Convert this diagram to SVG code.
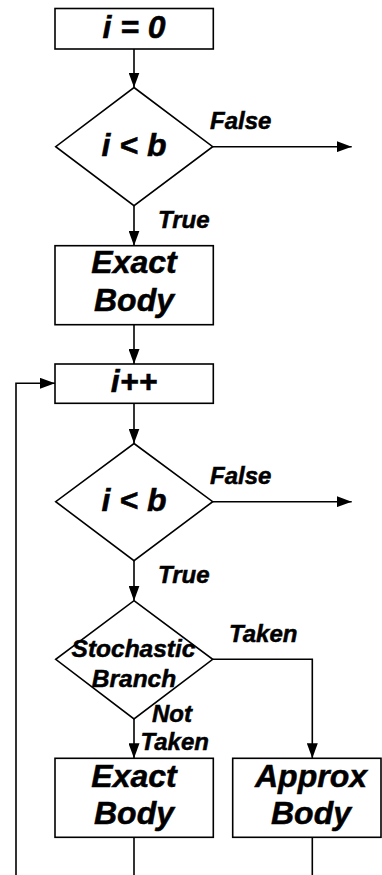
<svg xmlns="http://www.w3.org/2000/svg" width="382" height="875" viewBox="0 0 382 875">
<defs>
<marker id="ah" markerWidth="15" markerHeight="11" refX="15" refY="5.5" orient="auto" markerUnits="userSpaceOnUse">
<path d="M0,0 L15,5.5 L0,11 z" fill="#000"/>
</marker>
<style>
.box{fill:#fff;stroke:#000;stroke-width:1.6}
.ln{fill:none;stroke:#000;stroke-width:1.6}
.arr{fill:none;stroke:#000;stroke-width:1.6;marker-end:url(#ah)}
text{font-family:"Liberation Sans",Arial,sans-serif;font-weight:bold;font-style:italic;fill:#000;stroke:#000;stroke-width:0.5}
.big{font-size:32px;text-anchor:middle}
.sm{font-size:24px}
.mid{font-size:24.5px;text-anchor:middle}
</style>
</defs>
<rect width="382" height="875" fill="#fff"/>
<g id="connectors">
<line class="arr" x1="134" y1="49" x2="134" y2="87.5"/>
<line class="arr" x1="212.7" y1="146.7" x2="351.7" y2="146.7"/>
<line class="arr" x1="134" y1="205.7" x2="134" y2="245.7"/>
<line class="arr" x1="134" y1="324.7" x2="134" y2="364"/>
<line class="arr" x1="134" y1="403.3" x2="134" y2="443.5"/>
<line class="arr" x1="212.7" y1="501.7" x2="351.7" y2="501.7"/>
<line class="arr" x1="134" y1="560.7" x2="134" y2="600.7"/>
<polyline class="arr" points="212.7,659.3 312.3,659.3 312.3,758.3"/>
<line class="arr" x1="134" y1="719" x2="134" y2="758.3"/>
<line class="ln" x1="134" y1="837.3" x2="134" y2="875"/>
<line class="ln" x1="312.3" y1="837.3" x2="312.3" y2="875"/>
<polyline class="arr" points="16,875 16,383.3 55,383.3"/>
<text class="sm" x="210" y="129">False</text>
<text class="sm" x="158" y="228">True</text>
<text class="sm" x="210" y="484.3">False</text>
<text class="sm" x="158" y="583.3">True</text>
<text class="sm" x="229" y="642.3">Taken</text>
<text class="sm" x="152" y="721.7">Not</text>
<text class="sm" x="140.5" y="750">Taken</text>
</g>
<g id="init">
<rect class="box" x="55" y="8.5" width="158.3" height="40.5"/>
<text class="big" x="134" y="37.5">i = 0</text>
</g>
<g id="cond1">
<polygon class="box" points="134,87.5 212.7,146.7 134,205.7 55.7,146.7"/>
<text class="big" x="134" y="156">i &lt; b</text>
</g>
<g id="exact1">
<rect class="box" x="55" y="245.7" width="158.3" height="79"/>
<text class="big" x="134" y="273.3">Exact</text>
<text class="big" x="134" y="310.7">Body</text>
</g>
<g id="incr">
<rect class="box" x="55" y="364" width="158.3" height="39.3"/>
<text class="big" x="134" y="391.7">i++</text>
</g>
<g id="cond2">
<polygon class="box" points="134,443.5 212.7,501.7 134,560.7 55.7,501.7"/>
<text class="big" x="134" y="510.7">i &lt; b</text>
</g>
<g id="stoch">
<polygon class="box" points="134,600.7 212.7,659.3 134,719 55.7,659.3"/>
<text class="mid" x="133.5" y="657.3">Stochastic</text>
<text class="mid" x="134" y="686.7">Branch</text>
</g>
<g id="exact2">
<rect class="box" x="55" y="758.3" width="158.3" height="79"/>
<text class="big" x="134" y="786.7">Exact</text>
<text class="big" x="134" y="824.3">Body</text>
</g>
<g id="approx">
<rect class="box" x="232.7" y="758.3" width="148.3" height="79"/>
<text class="big" x="311" y="786.7">Approx</text>
<text class="big" x="311" y="824.3">Body</text>
</g>
</svg>
